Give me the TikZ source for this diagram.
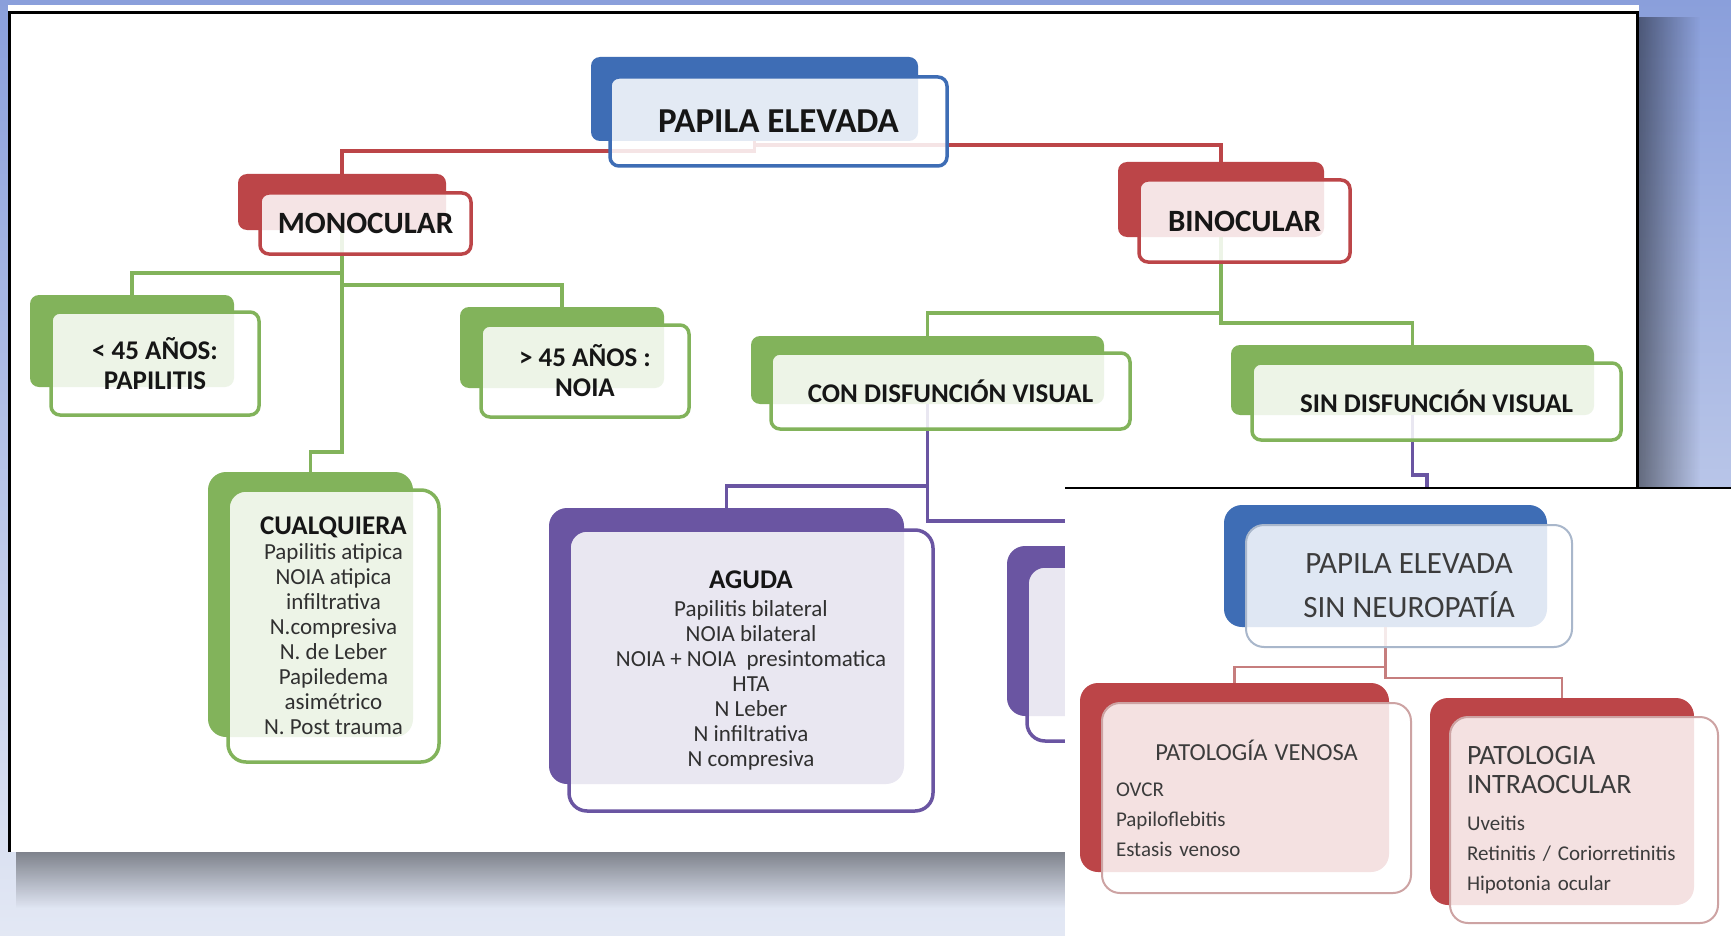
\documentclass[tikz,border=0pt]{standalone}
\usepackage{fontspec}
\setmainfont{Carlito}
\usetikzlibrary{fadings}

\definecolor{bgtop}{HTML}{8A9FDB}
\definecolor{bgbot}{HTML}{E3E8F4}
\definecolor{bluec}{HTML}{3E6DB5}
\definecolor{redc}{HTML}{BC4548}
\definecolor{greenc}{HTML}{82B35B}
\definecolor{purplec}{HTML}{6A55A2}
\definecolor{inkc}{HTML}{161616}
\definecolor{listink}{HTML}{303030}
\definecolor{greyink}{HTML}{3C3C3C}
\definecolor{edgeblue}{HTML}{A9B7CB}
\definecolor{edgered}{HTML}{CDA3A3}
\definecolor{linkred}{HTML}{C67E7E}

\tikzfading[name=fadeRight, left color=transparent!0, right color=transparent!100]
\tikzfading[name=fadeDown, top color=transparent!0, bottom color=transparent!100]

\begin{document}
\begin{tikzpicture}[
    x=1pt, y=-1pt,
    backbox/.style={fill=#1, rounded corners=9pt, inner sep=0pt},
    frontbox/.style={draw=#1, line width=3.5pt, fill=white, fill opacity=0.86, text opacity=1, rounded corners=9pt, inner sep=0pt, align=center, text=inkc, font=\fontsize{27}{30}\selectfont\bfseries},
    roomy/.style={rounded corners=18pt},
    items/.style={font=\fontsize{23}{25}\selectfont, text=listink},
    link/.style={draw=#1, line width=3.5pt},
    backbox2/.style={fill=#1, rounded corners=18pt, inner sep=0pt},
    frontbox2/.style={draw=#1, line width=2pt, fill=white, fill opacity=0.84, text opacity=1, rounded corners=18pt, inner sep=0pt, text=greyink},
    link2/.style={draw=linkred, line width=2.5pt}
]
    % backdrop, shadows and the first panel
    \useasboundingbox (0,0) rectangle (1731,936);
    \shade[top color=bgtop, bottom color=bgbot] (0,0) rectangle (1731,936);
    \fill[black, opacity=0.45, path fading=fadeRight] (1639,16) rectangle (1700,858);
    \fill[black, opacity=0.42, path fading=fadeDown] (16,852) rectangle (1660,908);
    \fill[white] (8,5) rectangle (1639,852);
    \draw[line width=2.5pt] (9.5,852) -- (9.5,12.5) -- (1637.5,12.5) -- (1637.5,852);

    % back boxes
    \node[backbox=bluec, minimum width=327pt, minimum height=84pt] (rootB) at (754.5,99) {};
    \node[backbox=redc, minimum width=208pt, minimum height=56pt] (monoB) at (342,202) {};
    \node[backbox=redc, minimum width=206pt, minimum height=75pt] (binB) at (1221,199.5) {};
    \node[backbox=greenc, minimum width=204pt, minimum height=92pt] (lt45B) at (132,341) {};
    \node[backbox=greenc, minimum width=204pt, minimum height=81pt] (gt45B) at (562,347.5) {};
    \node[backbox=greenc, roomy, minimum width=205pt, minimum height=265pt] (cualB) at (310.5,604.5) {};
    \node[backbox=greenc, minimum width=353pt, minimum height=68pt] (conB) at (927.5,370) {};
    \node[backbox=greenc, minimum width=363pt, minimum height=70pt] (sinB) at (1412.5,380) {};
    \node[backbox=purplec, roomy, minimum width=355pt, minimum height=276pt] (agudaB) at (726.5,646) {};
    \node[backbox=purplec, roomy, minimum width=323pt, minimum height=170pt] (otherB) at (1168.5,631) {};
    \coordinate (sinKid) at (1427,540);

    % connectors
    \draw[link=redc] (rootB.south) -- ++(0,10) -| (monoB.north);
    \draw[link=redc] (rootB.south) -- ++(0,4) -| (binB.north);
    \draw[link=greenc] (monoB.south) -- ++(0,43) -| (lt45B.north);
    \draw[link=greenc] (monoB.south) -- ++(0,55) -| (gt45B.north);
    \draw[link=greenc] (monoB.south) -- ++(0,222) -| (cualB.north);
    \draw[link=greenc] (binB.south) -- ++(0,76) -| (conB.north);
    \draw[link=greenc] (binB.south) -- ++(0,86) -| (sinB.north);
    \draw[link=purplec] (conB.south) -- ++(0,82) -| (agudaB.north);
    \draw[link=purplec] (conB.south) -- ++(0,117) -| (otherB.north);
    \draw[link=purplec] (sinB.south) -- ++(0,60) -| (sinKid);

    % front boxes
    \node[frontbox=bluec, minimum width=337pt, minimum height=89pt, font=\fontsize{35}{40}\selectfont\bfseries] (rootF) at (778.5,121.5) {PAPILA ELEVADA};
    \node[frontbox=redc, minimum width=211pt, minimum height=61pt, font=\fontsize{31}{34}\selectfont\bfseries] (monoF) at (365.5,223.5) {MONOCULAR};
    \node[frontbox=redc, minimum width=211pt, minimum height=82pt, font=\fontsize{31}{34}\selectfont\bfseries] (binF) at (1244.5,221) {BINOCULAR};
    \node[frontbox=greenc, minimum width=208pt, minimum height=103pt] (lt45F) at (155,363.5) {< 45 AÑOS:\\PAPILITIS};
    \node[frontbox=greenc, minimum width=208pt, minimum height=92pt] (gt45F) at (585,371) {> 45 AÑOS :\\NOIA};
    \node[frontbox=greenc, roomy, items, minimum width=211pt, minimum height=272pt] (cualF) at (333.5,626)
        {{\fontsize{27}{25}\selectfont\bfseries\color{inkc}CUALQUIERA}\\Papilitis atipica\\NOIA atipica\\infiltrativa\\N.compresiva\\N. de Leber\\Papiledema\\asimétrico\\N. Post trauma};
    \node[frontbox=greenc, minimum width=359pt, minimum height=76pt] (conF) at (950.5,391) {CON DISFUNCIÓN VISUAL};
    \node[frontbox=greenc, minimum width=369pt, minimum height=77pt] (sinF) at (1436.5,401.5) {SIN DISFUNCIÓN VISUAL};
    \node[frontbox=purplec, roomy, items, minimum width=364pt, minimum height=281pt] (agudaF) at (751,670.5)
        {{\fontsize{27}{25}\selectfont\bfseries\color{inkc}AGUDA}\\[3pt]Papilitis bilateral\\NOIA bilateral\\NOIA + NOIA\ \ presintomatica\\HTA\\N Leber\\N infiltrativa\\N compresiva};
    \node[frontbox=purplec, roomy, minimum width=328pt, minimum height=175pt] (otherF) at (1191,653.5) {};

    % second panel laid over the first
    \fill[white] (1065,487) rectangle (1731,936);
    \draw[line width=2pt] (1065,488) -- (1731,488);
    \node[backbox2=bluec, minimum width=323pt, minimum height=122pt] (root2B) at (1385.5,566) {};
    \node[backbox2=redc, minimum width=309pt, minimum height=189pt] (venB) at (1234.5,777.5) {};
    \node[backbox2=redc, minimum width=264pt, minimum height=207pt] (intraB) at (1562,801.5) {};
    \draw[link2] (root2B.south) -- ++(0,40) -| (venB.north);
    \draw[link2] (root2B.south) -- ++(0,51) -| (intraB.north);
    \node[frontbox2=edgeblue, minimum width=326pt, minimum height=122pt, align=center, font=\fontsize{31}{44}\selectfont] (root2F) at (1409,586) {PAPILA ELEVADA\\SIN NEUROPATÍA};
    \node[frontbox2=edgered, minimum width=309pt, minimum height=190pt, text width=281pt, align=left, font=\fontsize{21}{30}\selectfont] (venF) at (1256.5,798)
        {\makebox[\hsize]{\fontsize{24.5}{30}\selectfont PATOLOGÍA VENOSA}\\[6pt]OVCR\\Papiloflebitis\\Estasis venoso};
    \node[frontbox2=edgered, minimum width=268pt, minimum height=206pt, text width=234pt, align=left, font=\fontsize{21}{30}\selectfont] (intraF) at (1584,820)
        {{\fontsize{28}{29}\selectfont PATOLOGIA}\\[-1pt]{\fontsize{28}{29}\selectfont INTRAOCULAR}\\[7pt]Uveitis\\Retinitis / Coriorretinitis\\Hipotonia ocular};
\end{tikzpicture}
\end{document}
